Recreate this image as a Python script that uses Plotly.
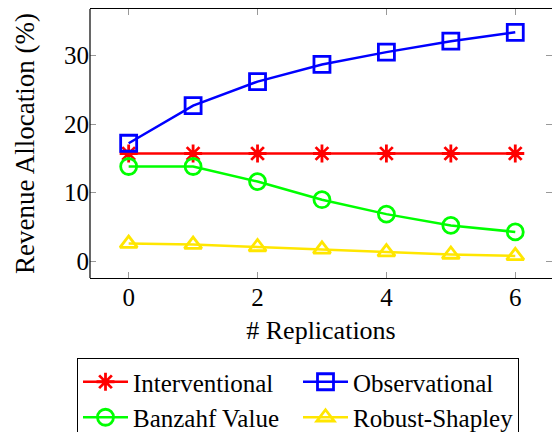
import plotly.graph_objects as go

replications = [0, 1, 2, 3, 4, 5, 6]
interventional = [15.7, 15.7, 15.7, 15.7, 15.7, 15.7, 15.7]
observational = [17.2, 22.7, 26.2, 28.7, 30.5, 32.1, 33.4]
banzhaf = [13.8, 13.8, 11.6, 8.95, 6.85, 5.2, 4.25]
robust_shapley = [2.55, 2.4, 2.05, 1.7, 1.3, 0.95, 0.75]

x_ticks = [0, 2, 4, 6]
y_ticks = [0, 10, 20, 30]

FONT = "Liberation Serif"

fig = go.Figure()

series = [
    ("Interventional", interventional, "#ff0000", "asterisk-open", 15),
    ("Observational", observational, "#0000ff", "square-open", 16),
    ("Banzahf Value", banzhaf, "#00ff00", "circle-open", 16),
    ("Robust-Shapley", robust_shapley, "#ffe600", "triangle-up-open", 15),
]

for name, vals, col, sym, sz in series:
    fig.add_trace(go.Scatter(
        x=replications, y=vals, name=name, mode="lines+markers",
        line=dict(color=col, width=2.5),
        marker=dict(symbol=sym, size=sz, color=col, line=dict(color=col, width=2.8)),
    ))

axis_common = dict(
    showgrid=False, zeroline=False, linecolor="black", linewidth=1.2,
    ticks="inside", ticklen=6, tickcolor="#999999", tickwidth=1.2, mirror="ticks",
    tickfont=dict(family=FONT, size=25, color="black"), automargin=False,
)

fig.update_layout(
    width=552, height=432,
    margin=dict(l=90, r=0, t=9, b=154),
    plot_bgcolor="white", paper_bgcolor="white",
    font=dict(family=FONT, color="black"),
    xaxis=dict(range=[-0.6, 6.57], tickvals=x_ticks, ticktext=[str(v) for v in x_ticks],
               showline=True, ticklabelstandoff=-3,
               title=dict(text="# Replications", font=dict(family=FONT, size=26), standoff=10),
               **axis_common),
    yaxis=dict(range=[-2.48, 36.8], tickvals=y_ticks, ticktext=[str(v) for v in y_ticks],
               showline=False,
               title=dict(text="Revenue Allocation (%)", font=dict(family=FONT, size=27), standoff=21),
               **axis_common),
    shapes=[dict(type="line", xref="paper", yref="paper", x0=0, x1=0, y0=0, y1=1,
                 line=dict(color="black", width=1.2), layer="above")],
    legend=dict(
        orientation="h", xref="container", yref="container",
        x=77 / 552, xanchor="left", y=1 - 358 / 432, yanchor="top",
        entrywidth=160, entrywidthmode="pixels", itemwidth=45,
        bordercolor="black", borderwidth=1, bgcolor="white",
        font=dict(family=FONT, size=25, color="black"),
        tracegroupgap=0,
    ),
    showlegend=True,
)

fig.write_html("out.html", config={"displayModeBar": False},
               post_script="document.body.style.margin='0px';")
